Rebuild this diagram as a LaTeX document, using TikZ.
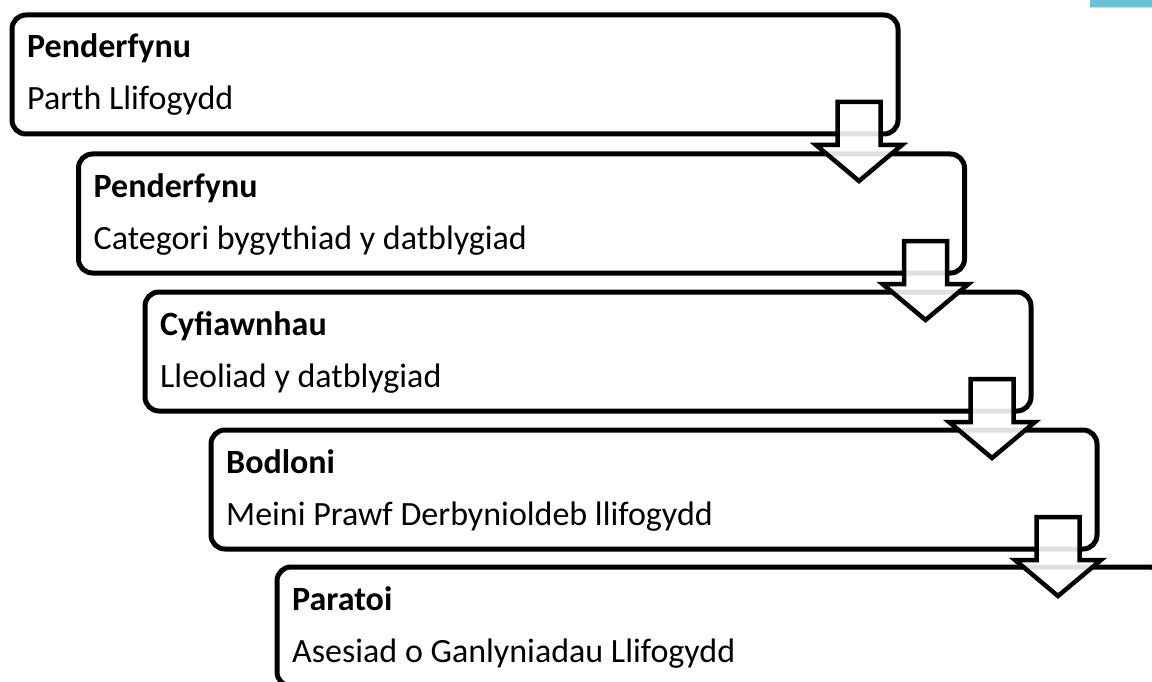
\documentclass[tikz,border=0pt]{standalone}
\usepackage{fontspec}
\setmainfont{Carlito}
\usetikzlibrary{calc}
\definecolor{barblue}{HTML}{6CC0D8}
\definecolor{barlight}{HTML}{BFE5EF}
\begin{document}
\begin{tikzpicture}[x=1pt,y=-1pt,
  stepbox/.style={draw=black, line width=5pt, rounded corners=14pt, fill=white,
    minimum width=886pt, minimum height=119pt, anchor=north west, inner sep=0pt, outer sep=0pt},
  titletext/.style={anchor=base west, inner sep=0pt, font=\fontsize{34}{40}\selectfont\bfseries},
  bodytext/.style={anchor=base west, inner sep=0pt, font=\fontsize{34}{40}\selectfont},
  downarrow/.style={draw=black, line width=4.5pt, fill=white, fill opacity=0.88, line join=miter}
]
\clip (0,0) rectangle (1152,682);
\useasboundingbox (0,0) rectangle (1152,682);
\fill[barblue] (1090,0) rectangle (1152,7.5);
\fill[barlight] (1090,7.5) rectangle (1152,8.5);

\node[stepbox] (b1) at (12,15) {};
\node[stepbox] (b2) at (78.5,154) {};
\node[stepbox] (b3) at (145,292) {};
\node[stepbox] (b4) at (211,430) {};
\node[stepbox] (b5) at (277,567) {};

\node[titletext] (t1) at ($(b1.north west)+(15,43)$) {Penderfynu};
\node[bodytext]  (s1) at ($(b1.north west)+(15,95)$) {Parth Llifogydd};
\node[titletext] (t2) at ($(b2.north west)+(15,43)$) {Penderfynu};
\node[bodytext]  (s2) at ($(b2.north west)+(15,95)$) {Categori bygythiad y datblygiad};
\node[titletext] (t3) at ($(b3.north west)+(15,43)$) {Cyfiawnhau};
\node[bodytext]  (s3) at ($(b3.north west)+(15,95)$) {Lleoliad y datblygiad};
\node[titletext] (t4) at ($(b4.north west)+(15,43)$) {Bodloni};
\node[bodytext]  (s4) at ($(b4.north west)+(15,95)$) {Meini Prawf Derbynioldeb llifogydd};
\node[titletext] (t5) at ($(b5.north west)+(15,43)$) {Paratoi};
\node[bodytext]  (s5) at ($(b5.north west)+(15,95)$) {Asesiad o Ganlyniadau Llifogydd};

\foreach \b in {b1,b2,b3,b4}{
  \draw[downarrow] ($(\b.south east)+(-60.5,-32)$) -- ++(43,0) -- ++(0,43) -- ++(21.5,0)
    -- ++(-43,36) -- ++(-43,-36) -- ++(21.5,0) -- cycle;
}
\end{tikzpicture}
\end{document}
